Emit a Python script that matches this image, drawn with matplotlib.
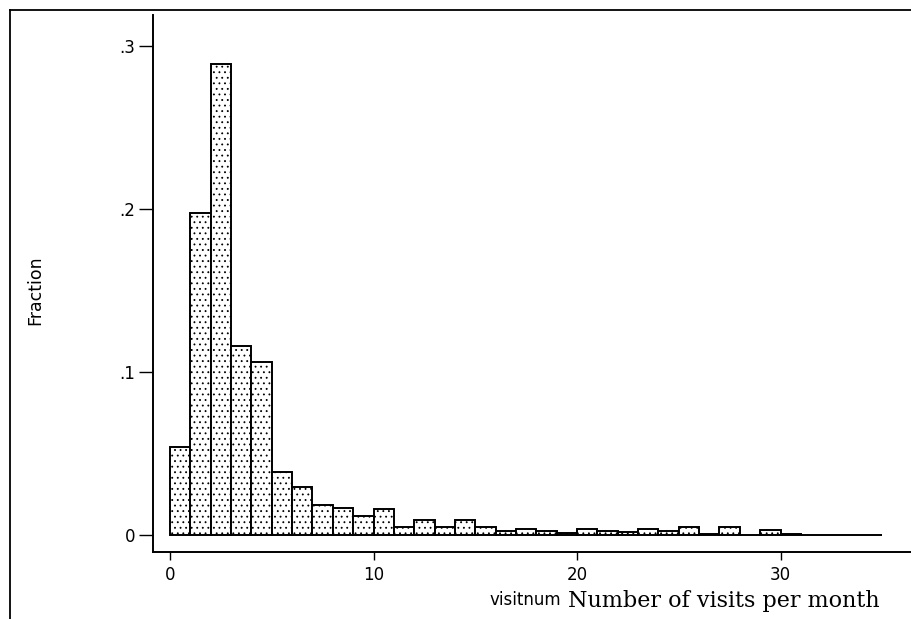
import matplotlib
matplotlib.use("Agg")
import matplotlib.pyplot as plt
from matplotlib.lines import Line2D

# Histogram of visitnum: bin left edges (width 1) and fractions
bin_left = list(range(0, 35))
fraction = [0.0542, 0.1977, 0.2888, 0.1160, 0.1063, 0.0385, 0.0293, 0.0182,
            0.0164, 0.0118, 0.0158, 0.0052, 0.0092, 0.0052, 0.0094, 0.0052,
            0.0027, 0.0037, 0.0027, 0.0010, 0.0037, 0.0022, 0.0017, 0.0037,
            0.0025, 0.0049, 0.0007, 0.0047, 0.0, 0.0033, 0.0008, 0.0,
            0.0, 0.0, 0.0]
xticks = [0, 10, 20, 30]
yticks = [0, 0.1, 0.2, 0.3]
yticklabels = ["0", ".1", ".2", ".3"]

plt.rcParams['hatch.linewidth'] = 0.6
fig = plt.figure(figsize=(9.11, 6.19), dpi=100)
ax = fig.add_axes([153/911, 67/619, 1 - 153/911, (552-15)/619])

ax.bar(bin_left, fraction, width=1.0, align='edge', facecolor='white',
       edgecolor='black', linewidth=1.4, hatch='...')

ax.set_xlim(-0.835, 36.41)
ax.set_ylim(-0.0104, 0.319)
ax.set_xticks(xticks)
ax.set_xticklabels([str(t) for t in xticks], fontsize=12, family='DejaVu Sans')
ax.set_yticks(yticks)
ax.set_yticklabels(yticklabels, fontsize=12, family='DejaVu Sans')
ax.tick_params(axis='y', direction='out', length=10, width=1, pad=3)
ax.tick_params(axis='x', direction='out', length=6, width=1, pad=4)
for s in ['top', 'right']:
    ax.spines[s].set_visible(False)
ax.spines['left'].set_linewidth(1.4)
ax.spines['bottom'].set_linewidth(1.4)

fig.text(35/911, 1 - 290/619, "Fraction", rotation=90, ha='center', va='center',
         fontsize=12.5, family='DejaVu Sans')
fig.text(525/911, 1 - 600/619, "visitnum", ha='center', va='center',
         fontsize=12, family='DejaVu Sans')
fig.text(568/911, 1 - 601/619, "Number of visits per month", ha='left', va='center',
         fontsize=16, family='DejaVu Serif')

# outer frame lines
fig.add_artist(Line2D([10/911, 10/911], [0, 1 - 10/619], color='black', lw=1.3,
                      transform=fig.transFigure))
fig.add_artist(Line2D([10/911, 1], [1 - 10/619, 1 - 10/619], color='black', lw=1.3,
                      transform=fig.transFigure))

fig.savefig("out.png", dpi=100)
